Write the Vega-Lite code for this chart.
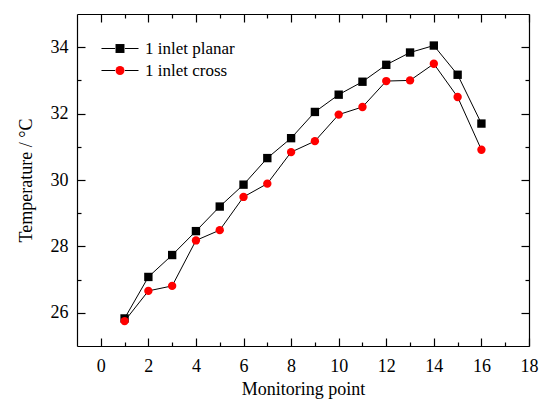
{
  "$schema": "https://vega.github.io/schema/vega-lite/v6.json",
  "width": 452,
  "height": 332,
  "autosize": {"type": "none"},
  "padding": {"left": 77, "top": 14, "right": 12, "bottom": 54},
  "background": "white",
  "config": {
    "view": {"stroke": null},
    "font": "Liberation Serif",
    "axis": {
      "labelFont": "Liberation Serif",
      "titleFont": "Liberation Serif",
      "labelFontSize": 18,
      "titleFontSize": 18,
      "titleFontWeight": "normal",
      "labelColor": "black",
      "titleColor": "black",
      "domainColor": "black",
      "domainWidth": 1.2,
      "tickColor": "black",
      "tickWidth": 1.2,
      "grid": false,
      "labelFlush": false,
      "labelOverlap": false
    },
    "legend": {
      "labelFont": "Liberation Serif",
      "labelFontSize": 17,
      "labelColor": "black",
      "rowPadding": 4
    }
  },
  "data": {
    "values": [
      {"point": 1, "temp": 25.83, "series": "1 inlet planar"},
      {"point": 2, "temp": 27.08, "series": "1 inlet planar"},
      {"point": 3, "temp": 27.74, "series": "1 inlet planar"},
      {"point": 4, "temp": 28.46, "series": "1 inlet planar"},
      {"point": 5, "temp": 29.2, "series": "1 inlet planar"},
      {"point": 6, "temp": 29.86, "series": "1 inlet planar"},
      {"point": 7, "temp": 30.66, "series": "1 inlet planar"},
      {"point": 8, "temp": 31.26, "series": "1 inlet planar"},
      {"point": 9, "temp": 32.05, "series": "1 inlet planar"},
      {"point": 10, "temp": 32.57, "series": "1 inlet planar"},
      {"point": 11, "temp": 32.96, "series": "1 inlet planar"},
      {"point": 12, "temp": 33.47, "series": "1 inlet planar"},
      {"point": 13, "temp": 33.84, "series": "1 inlet planar"},
      {"point": 14, "temp": 34.05, "series": "1 inlet planar"},
      {"point": 15, "temp": 33.17, "series": "1 inlet planar"},
      {"point": 16, "temp": 31.7, "series": "1 inlet planar"},
      {"point": 1, "temp": 25.75, "series": "1 inlet cross"},
      {"point": 2, "temp": 26.66, "series": "1 inlet cross"},
      {"point": 3, "temp": 26.81, "series": "1 inlet cross"},
      {"point": 4, "temp": 28.18, "series": "1 inlet cross"},
      {"point": 5, "temp": 28.49, "series": "1 inlet cross"},
      {"point": 6, "temp": 29.49, "series": "1 inlet cross"},
      {"point": 7, "temp": 29.89, "series": "1 inlet cross"},
      {"point": 8, "temp": 30.84, "series": "1 inlet cross"},
      {"point": 9, "temp": 31.17, "series": "1 inlet cross"},
      {"point": 10, "temp": 31.97, "series": "1 inlet cross"},
      {"point": 11, "temp": 32.2, "series": "1 inlet cross"},
      {"point": 12, "temp": 32.98, "series": "1 inlet cross"},
      {"point": 13, "temp": 33.0, "series": "1 inlet cross"},
      {"point": 14, "temp": 33.5, "series": "1 inlet cross"},
      {"point": 15, "temp": 32.5, "series": "1 inlet cross"},
      {"point": 16, "temp": 30.91, "series": "1 inlet cross"}
    ]
  },
  "layer": [
    {
      "mark": {"type": "line", "strokeWidth": 1},
      "encoding": {
        "x": {
          "field": "point",
          "type": "quantitative",
          "scale": {"domain": [-1, 18], "nice": false, "zero": false},
          "axis": {
            "orient": "bottom",
            "title": "Monitoring point",
            "values": [0, 1, 2, 3, 4, 5, 6, 7, 8, 9, 10, 11, 12, 13, 14, 15, 16, 17, 18],
            "labelExpr": "datum.value % 2 === 0 ? datum.label : ''",
            "tickSize": {"condition": {"test": "datum.value % 2 === 0", "value": -8}, "value": -4},
            "labelPadding": 19,
            "titlePadding": 1
          }
        },
        "y": {
          "field": "temp",
          "type": "quantitative",
          "scale": {"domain": [25, 35], "nice": false, "zero": false},
          "axis": {
            "orient": "left",
            "title": "Temperature / °C",
            "values": [26, 27, 28, 29, 30, 31, 32, 33, 34],
            "labelExpr": "datum.value % 2 === 0 ? datum.label : ''",
            "tickSize": {"condition": {"test": "datum.value % 2 === 0", "value": -8}, "value": -4},
            "labelPadding": 17,
            "titlePadding": 15
          }
        },
        "stroke": {
          "field": "series",
          "type": "nominal",
          "scale": {"range": ["black", "black"]},
          "legend": {
            "orient": "none",
            "legendX": 34.5,
            "legendY": 26,
            "title": null,
            "symbolType": "M-4.14,0H-1.1M1.1,0H4.14",
            "symbolSize": 80,
            "symbolStrokeWidth": 1,
            "symbolStrokeColor": "black",
            "labelExpr": "''"
          }
        }
      }
    },
    {
      "mark": {"type": "point", "filled": true, "size": 70, "opacity": 1},
      "encoding": {
        "x": {
          "field": "point",
          "type": "quantitative",
          "axis": {
            "orient": "top",
            "title": null,
            "labels": false,
            "values": [0, 1, 2, 3, 4, 5, 6, 7, 8, 9, 10, 11, 12, 13, 14, 15, 16, 17, 18],
            "tickSize": {"condition": {"test": "datum.value % 2 === 0", "value": -8}, "value": -4}
          }
        },
        "y": {
          "field": "temp",
          "type": "quantitative",
          "axis": {
            "orient": "right",
            "title": null,
            "labels": false,
            "values": [26, 27, 28, 29, 30, 31, 32, 33, 34],
            "tickSize": {"condition": {"test": "datum.value % 2 === 0", "value": -8}, "value": -4}
          }
        },
        "fill": {
          "field": "series",
          "type": "nominal",
          "scale": {"domain": ["1 inlet planar", "1 inlet cross"], "range": ["black", "#ff0000"]},
          "legend": {
            "orient": "top-left",
            "offset": 26,
            "title": null,
            "symbolOffset": 8.5,
            "labelOffset": 16.5,
            "symbolSize": 80,
            "symbolStrokeWidth": 0
          }
        },
        "shape": {
          "field": "series",
          "type": "nominal",
          "scale": {"domain": ["1 inlet planar", "1 inlet cross"], "range": ["square", "circle"]},
          "legend": {
            "orient": "top-left",
            "offset": 26,
            "title": null,
            "symbolOffset": 8.5,
            "labelOffset": 16.5,
            "symbolSize": 80,
            "symbolStrokeWidth": 0
          }
        }
      }
    }
  ]
}
